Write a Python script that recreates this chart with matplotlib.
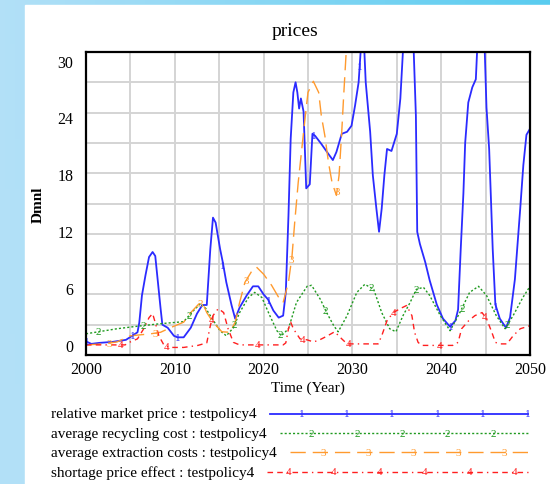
import numpy as np
import matplotlib.pyplot as plt
from matplotlib.lines import Line2D
from matplotlib.patches import Rectangle
from matplotlib.transforms import ScaledTranslation

# relative market price : testpolicy4
blue_t = [2000.0, 2000.6, 2001.5, 2003.0, 2004.5, 2005.2, 2005.8, 2006.0, 2006.3, 2006.7,
          2007.1, 2007.5, 2007.8, 2008.1, 2008.4, 2008.6, 2009.2, 2009.9, 2010.3, 2011.0,
          2011.8, 2012.5, 2013.1, 2013.6, 2014.0, 2014.3, 2014.6, 2015.1, 2015.4, 2015.8,
          2016.4, 2016.8, 2017.3, 2018.1, 2018.8, 2019.4, 2020.0, 2020.5, 2021.1, 2021.7,
          2022.2, 2022.5, 2022.8, 2023.05, 2023.35, 2023.6, 2023.8, 2024.0, 2024.2, 2024.5,
          2024.8, 2025.2, 2025.5, 2025.8, 2026.5, 2027.3, 2027.8, 2028.2, 2028.8, 2029.4,
          2029.9, 2030.3, 2030.7, 2031.0, 2031.3, 2031.5, 2032.0, 2032.3, 2032.7, 2033.0,
          2033.3, 2033.6, 2033.9, 2034.4, 2035.0, 2035.4, 2035.7, 2036.9, 2037.15, 2037.3,
          2037.6, 2038.2, 2038.7, 2039.5, 2040.2, 2041.0, 2041.6, 2041.9, 2042.2, 2042.5,
          2042.7, 2043.05, 2043.5, 2043.9, 2044.05, 2044.9, 2045.1, 2045.4, 2045.6, 2045.8,
          2046.1, 2046.6, 2047.3, 2047.75, 2048.3, 2048.9, 2049.25, 2049.6, 2050.0]
blue_v = [1.35, 1.1, 1.2, 1.3, 1.5, 1.9, 2.25, 3.2, 5.9, 7.9,
          9.7, 10.2, 9.8, 7.2, 4.6, 3.0, 2.7, 1.9, 1.75, 1.75,
          2.7, 4.1, 4.95, 4.95, 10.5, 13.6, 13.1, 10.5, 9.2, 7.2,
          4.9, 3.6, 4.7, 5.9, 6.8, 6.8, 6.0, 5.5, 4.4, 3.7,
          3.9, 6.2, 13.8, 21.4, 26.0, 27.0, 26.0, 24.4, 25.4, 24.1,
          16.5, 16.9, 21.9, 21.7, 20.9, 19.9, 19.3, 20.1, 21.9, 22.1,
          22.7, 24.7, 27.0, 31.0, 31.0, 27.0, 22.1, 17.8, 14.5, 12.2,
          14.5, 17.8, 20.4, 20.2, 21.9, 25.4, 30.2, 30.2, 23.7, 12.2,
          11.0, 9.2, 7.4, 5.0, 3.6, 2.8, 3.4, 4.5, 10.5, 16.0,
          21.0, 25.0, 26.5, 27.3, 30.2, 30.2, 24.5, 20.4, 15.5, 10.5,
          5.0, 3.6, 2.7, 3.7, 7.5, 14.5, 18.8, 21.8, 22.4]

# average recycling cost : testpolicy4
green_t = [2000.0, 2003.5, 2005.8, 2008.4, 2011.0, 2012.0, 2012.9, 2013.5, 2014.2, 2015.1,
           2015.8, 2016.6, 2017.3, 2018.3, 2019.0, 2019.8, 2020.7, 2021.5, 2022.0, 2022.8,
           2023.7, 2024.9, 2025.4, 2026.4, 2027.1, 2027.9, 2028.4, 2029.4, 2030.5, 2031.4,
           2032.4, 2033.3, 2034.2, 2034.9, 2035.7, 2036.5, 2037.2, 2038.0, 2038.7, 2039.9,
           2041.0, 2042.1, 2043.2, 2044.2, 2045.1, 2046.2, 2047.2, 2048.1, 2049.2, 2050.0]
green_v = [2.1, 2.6, 2.85, 3.1, 3.3, 4.3, 5.1, 4.6, 3.6, 2.4,
           1.9, 2.7, 4.2, 5.7, 6.2, 5.7, 3.9, 2.4, 1.9, 2.6,
           5.2, 6.8, 6.9, 5.5, 4.2, 2.9, 2.3, 3.9, 6.2, 7.0,
           6.5, 4.2, 2.6, 2.3, 3.9, 5.2, 6.5, 6.7, 5.9, 3.9,
           2.4, 4.2, 6.2, 6.8, 5.9, 3.9, 2.6, 3.9, 5.7, 6.8]

# average extraction costs : testpolicy4
orange_t = [2000.0, 2002.0, 2003.5, 2005.0, 2007.3, 2008.4, 2009.5, 2011.0, 2011.8, 2012.7,
            2013.1, 2013.6, 2014.3, 2015.3, 2016.2, 2016.8, 2017.3, 2017.9, 2018.7, 2019.2,
            2020.0, 2020.9, 2021.7, 2022.2, 2022.8, 2023.2, 2023.5, 2023.9, 2024.3, 2024.7,
            2025.0, 2025.6, 2026.2, 2026.5, 2026.9, 2027.3, 2027.7, 2028.2, 2028.5, 2028.8,
            2029.0, 2029.3, 2029.6]
orange_v = [1.0, 1.1, 1.3, 1.9, 2.1, 2.25, 2.7, 3.25, 4.2, 5.05,
            5.2, 4.2, 3.25, 2.3, 2.25, 3.25, 5.2, 7.2, 8.35, 8.7,
            8.0, 6.9, 5.7, 5.2, 7.2, 9.8, 13.1, 17.1, 20.4, 23.7,
            26.0, 27.1, 26.0, 23.7, 21.7, 19.1, 17.1, 15.8, 17.8, 22.1,
            25.4, 30.0, 36.0]

# shortage price effect : testpolicy4
red_t = [2000.0, 2004.4, 2005.0, 2005.8, 2006.5, 2007.1, 2007.5, 2007.8, 2008.2, 2008.8,
         2009.5, 2011.0, 2012.6, 2013.6, 2014.0, 2014.3, 2014.9, 2015.5, 2016.0, 2016.6,
         2017.3, 2022.2, 2022.5, 2022.8, 2023.05, 2023.35, 2024.1, 2024.9, 2025.6, 2026.2,
         2027.1, 2028.0, 2028.8, 2029.4, 2032.9, 2033.3, 2033.9, 2034.6, 2035.4, 2036.1,
         2036.7, 2037.0, 2037.4, 2037.8, 2041.3, 2041.9, 2042.3, 2043.1, 2043.8, 2044.6,
         2045.1, 2045.7, 2046.1, 2046.6, 2047.4, 2048.1, 2048.9, 2050.0]
red_v = [1.0, 1.0, 1.3, 1.6, 2.6, 3.7, 4.1, 3.2, 1.9, 0.95,
         0.75, 0.75, 0.95, 1.2, 2.9, 3.9, 4.6, 4.2, 2.6, 1.25,
         1.0, 1.0, 1.2, 2.6, 3.25, 2.6, 1.6, 1.5, 1.3, 1.45,
         1.85, 2.3, 1.6, 1.1, 1.1, 1.9, 3.4, 4.2, 4.6, 4.9,
         3.9, 2.25, 1.25, 0.95, 0.95, 1.25, 2.6, 3.4, 3.9, 4.2,
         3.6, 2.25, 1.25, 1.1, 1.1, 1.9, 2.6, 2.9]

labels = ['relative market price : testpolicy4',
          'average recycling cost : testpolicy4',
          'average extraction costs : testpolicy4',
          'shortage price effect : testpolicy4']
colors = ['#2b2bff', '#1f9a1f', '#ff9a2e', '#ff1f1f']
dashes = [None, (1.5, 1.5), (11, 5), (4, 3, 4, 3, 1, 3)]
widths = [1.3, 1.0, 1.0, 1.0]

plt.rcParams['font.family'] = ['Liberation Serif', 'DejaVu Serif']

W, H = 550, 485
fig = plt.figure(figsize=(5.5, 4.85), dpi=100)


def fx(x):
    return x / W


def fy(y):
    return 1 - y / H


# blue background with white panel
bg = fig.add_axes([0, 0, 1, 1], zorder=-10)
gx = np.linspace(0, 1, 110)[None, :, None]
gy = np.linspace(0, 1, 97)[:, None, None]
c_left = np.array([0.70, 0.88, 0.97])
c_top = np.array([0.35, 0.80, 0.94])
img = c_left * (1 - gx * (1 - gy)) + c_top * gx * (1 - gy)
bg.imshow(np.clip(img, 0, 1), extent=[0, 1, 0, 1], aspect='auto', origin='upper')
bg.add_patch(Rectangle((fx(25), 0), 1 - fx(25), fy(6), color='white'))
bg.set_xlim(0, 1)
bg.set_ylim(0, 1)
bg.axis('off')

ax = fig.add_axes([fx(86), fy(356), 444 / W, 303 / H])
series = [(blue_t, blue_v), (green_t, green_v), (orange_t, orange_v), (red_t, red_v)]
for k, (t, v) in enumerate(series):
    line, = ax.plot(t, v, color=colors[k], lw=widths[k], zorder=3 + k)
    if dashes[k] is not None:
        line.set_dashes(dashes[k])
    # numbered markers along each series
    for m in np.arange(2000.1 + k * 1.28, 2050.01, 5.12):
        y = np.interp(m, t, v, right=np.nan)
        if np.isnan(y) or y > 29.6:
            continue
        ax.text(m, y, str(k + 1), color=colors[k], fontsize=8, ha='center', va='center',
                zorder=7 + k)

ax.set_xlim(2000, 2050)
ax.set_ylim(0, 30)
ax.set_xticks(range(2000, 2051, 10))
ax.set_xticks(range(2000, 2051, 5), minor=True)
ax.set_yticks(range(0, 31, 6))
ax.set_yticks(range(0, 31, 3), minor=True)
ax.grid(which='both', color='#d4d4d4', lw=1.4, zorder=0)
ax.tick_params(which='both', length=0, labelsize=11.5)
ax.tick_params(axis='x', pad=4)
ax.tick_params(axis='y', pad=9)
for s in ax.spines.values():
    s.set_linewidth(1.6)
    s.set_zorder(20)

# value labels sit inset from the axis ends, spread evenly between them
for val, lab in zip(range(0, 31, 6), ax.yaxis.get_majorticklabels()):
    shift = -10.3 + val * 0.633
    lab.set_transform(lab.get_transform() + ScaledTranslation(0, -shift / 100, fig.dpi_scale_trans))

ax.set_xlabel('Time (Year)', fontsize=11)
ax.xaxis.set_label_coords(0.5, -32 / 303)
ax.xaxis.label.set_va('center')
ax.set_ylabel('Dmnl', fontsize=11, fontweight='bold')
ax.yaxis.set_label_coords(-48 / 444, 0.5)
ax.yaxis.label.set_va('center')

fig.text(fx(295), fy(32), 'prices', fontsize=14, ha='center', va='center')

# legend rows under the chart
renderer = fig.canvas.get_renderer()
rows = [415, 434.3, 453.3, 472.7]
offsets = [0, 35, 24, 13]
for k in range(4):
    txt = fig.text(fx(51), fy(rows[k]), labels[k], fontsize=11, ha='left', va='center')
    x0 = txt.get_window_extent(renderer).x1 + 13
    x1 = 528
    ln = Line2D([fx(x0), fx(x1)], [fy(rows[k]), fy(rows[k])], transform=fig.transFigure,
                color=colors[k], lw=widths[k])
    if dashes[k] is not None:
        ln.set_dashes(dashes[k])
    fig.add_artist(ln)
    xm = x1 - offsets[k]
    while xm >= x0 + 15:
        fig.text(fx(xm), fy(rows[k]), str(k + 1), color=colors[k], fontsize=8,
                 ha='center', va='center')
        xm -= 45.3

fig.savefig('out.png', dpi=100)
